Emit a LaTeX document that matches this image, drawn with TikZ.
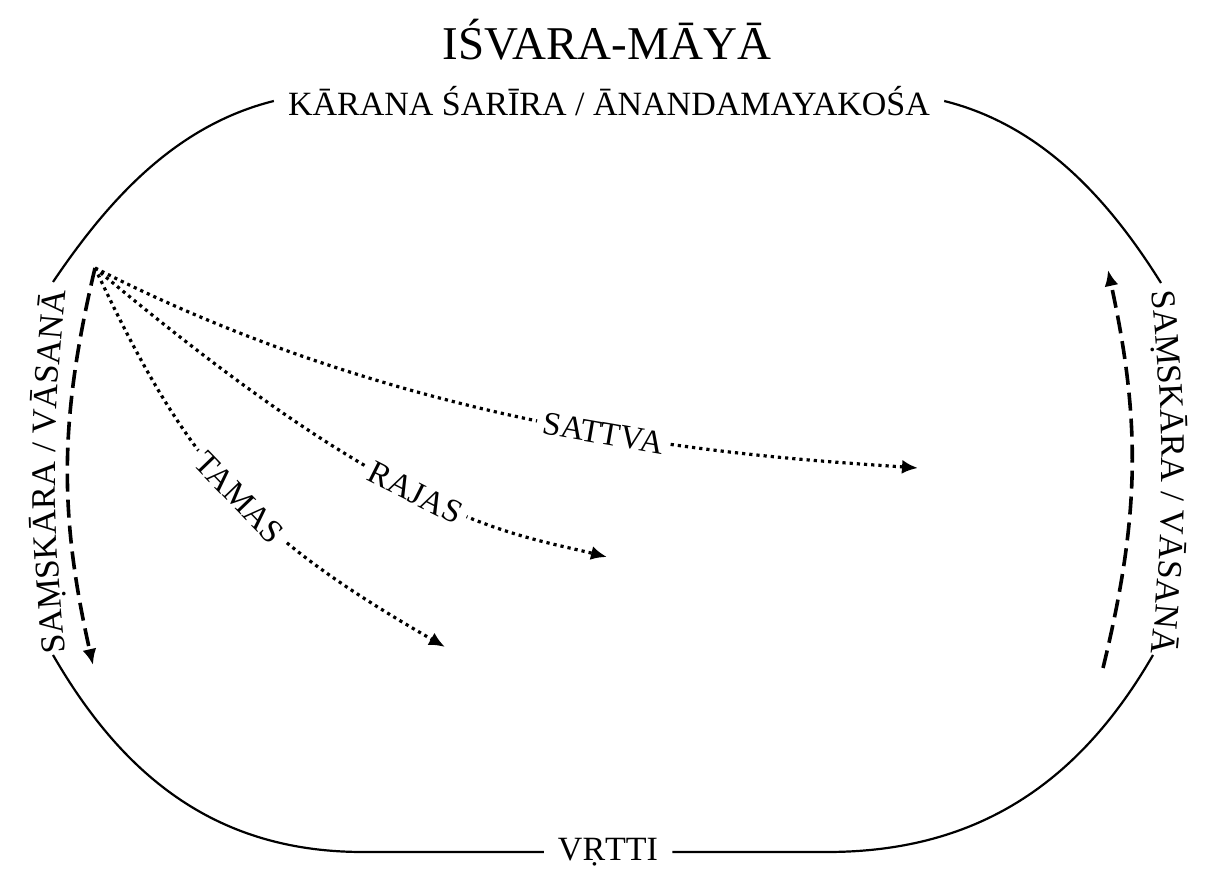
\documentclass[tikz,border=0pt]{standalone}
\usepackage{fontspec}
\setmainfont{Liberation Serif}
\usetikzlibrary{arrows.meta, positioning}
\usetikzlibrary{decorations.text}

\begin{document}
\begin{tikzpicture}[x=1pt, y=1pt,
  rim/.style={line width=2.2pt},
  flow/.style={line width=3.6pt, dash pattern=on 18pt off 8pt, -{Latex[length=16pt,width=14pt]}},
  guna/.style={line width=3.2pt, dash pattern=on 3.2pt off 4pt, -{Latex[length=16pt,width=14pt]}},
  gunalabel/.style={sloped, fill=white, inner sep=6pt, font=\fontsize{33}{40}\selectfont},
  bigtext/.style={font=\fontsize{34}{41}\selectfont, inner xsep=14pt, inner ysep=0pt}]

  \useasboundingbox (0,0) rectangle (1220,872);

  % ==== Top: title and causal body ====
  \node[font=\fontsize{47}{56}\selectfont] (title) at (607,832) {IŚVARA-MĀYĀ};
  \node[bigtext] (karana) at (609,771) {KĀRANA ŚARĪRA / ĀNANDAMAYAKOŚA};

  % ==== Bottom ====
  \node[bigtext] (vrtti) at (608,20) {VṚTTI};

  % rim end points
  \coordinate (tl) at (53,590);
  \coordinate (tr) at (1161,589);
  \coordinate (bl) at (53,217);
  \coordinate (br) at (1153,217);
  \coordinate (blflat) at (363,20);
  \coordinate (brflat) at (827,20);

  % Rim
  \draw[rim] (tl) to[out=56,in=-166, looseness=0.9] (karana.west);
  \draw[rim] (karana.east) to[out=-14,in=122, looseness=0.9] (tr);
  \draw[rim] (bl) to[out=-60,in=180] (blflat) -- (vrtti.west);
  \draw[rim] (vrtti.east) -- (brflat) to[out=0,in=-120] (br);

  % Side labels along the rim
  \path[decorate, decoration={text along path, text align=center,
      text={|\fontsize{34.5}{41}\selectfont|SAṂSKĀRA / VĀSANĀ}}]
    (67,206) to[bend left=6] (67,594);
  \path[decorate, decoration={text along path, text align=center,
      text={|\fontsize{34.5}{41}\selectfont|SAṂSKĀRA / VĀSANĀ}}]
    (1150,594) to[bend left=6] (1150,206);

  % ==== Gunas ====
  \coordinate (src) at (95,604);
  \coordinate (sattvaend) at (918,404);
  \coordinate (rajasend) at (607,315);
  \coordinate (tamasend) at (445,225);

  \draw[guna] (src) to[out=-27,in=176, out distance=380, in distance=150]
    node[gunalabel, pos=0.53] (sattva) {SATTVA} (sattvaend);
  \draw[guna] (src) to[out=-40,in=166, out distance=400, in distance=100]
    node[gunalabel, pos=0.47] (rajas) {RAJAS} (rajasend);
  \draw[guna] (src) to[out=-65,in=150, looseness=1.1]
    node[gunalabel, pos=0.52] (tamas) {TAMAS} (tamasend);

  % Samskara flows
  \coordinate (ltip) at (93,207);
  \coordinate (rbot) at (1103,204);
  \coordinate (rtip) at (1108,602);
  \draw[flow] (src) to[bend right=13] (ltip);
  \draw[flow] (rbot) to[bend right=13] (rtip);
\end{tikzpicture}
\end{document}
